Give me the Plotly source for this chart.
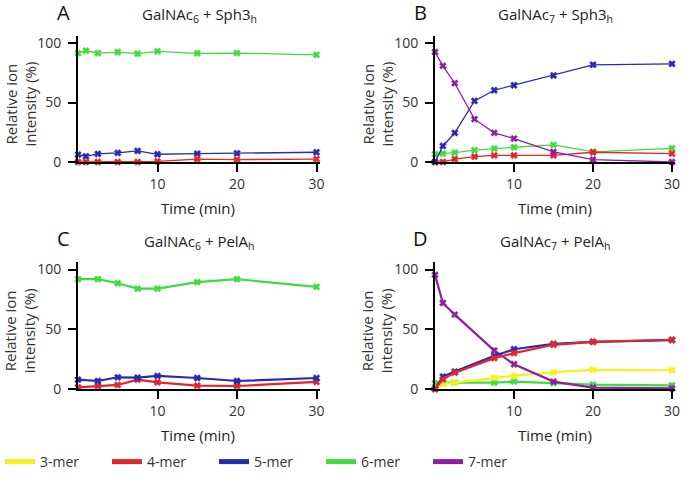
import plotly.graph_objects as go

# ---------------- data ----------------
t_A = [0, 1, 2.5, 5, 7.5, 10, 15, 20, 30]
A_6mer = [91.5, 93.5, 91.5, 92.4, 91.0, 93.0, 91.3, 91.5, 90.1]
A_5mer = [6.2, 4.8, 6.8, 7.6, 9.3, 6.5, 7.0, 7.3, 8.2]
A_4mer = [0, 0, 0, 0, 0, 0.5, 2.5, 2.0, 2.5]

t_B = [0, 1, 2.5, 5, 7.5, 10, 15, 20, 30]
B_7mer = [92.4, 80.8, 66.2, 36.0, 24.5, 19.7, 8.5, 2.0, 0]
B_5mer = [0, 13.5, 24.5, 51.3, 60.3, 64.5, 72.7, 81.7, 82.5]
B_6mer = [6.5, 7.0, 7.9, 9.9, 11.3, 12.4, 14.4, 8.5, 11.5]
B_4mer = [0, 0, 2.5, 4.5, 5.6, 5.6, 5.6, 8.2, 7.0]

t_C = [0, 2.5, 5, 7.5, 10, 15, 20, 30]
C_6mer = [91.9, 91.9, 88.5, 84.0, 84.0, 89.4, 91.9, 85.5]
C_5mer = [7.8, 6.7, 9.8, 9.5, 10.9, 9.2, 6.7, 9.2]
C_4mer = [1.4, 2.5, 3.4, 7.8, 5.6, 2.8, 2.5, 5.9]

t_D = [0, 1, 2.5, 7.5, 10, 15, 20, 30]
D_7mer = [95.5, 72.0, 62.2, 32.2, 20.7, 6.2, 1.1, 0.5]
D_5mer = [0, 10.4, 14.6, 27.7, 33.3, 37.8, 39.5, 40.9]
D_4mer = [0, 8.1, 13.7, 25.8, 30.0, 37.0, 39.5, 41.2]
D_3mer = [0, 4.2, 5.3, 9.5, 11.2, 14.0, 16.0, 15.7]
D_6mer = [4.8, 5.3, 5.3, 5.3, 6.2, 5.0, 3.6, 3.1]

series_names = ["3-mer", "4-mer", "5-mer", "6-mer", "7-mer"]
series_colors = ["#F2F21E", "#E3262B", "#2A2AB0", "#3FDC3F", "#8E1F9E"]
col = dict(zip(series_names, series_colors))

panel_titles = ["GalNAc<sub>6</sub> + Sph3<sub>h</sub>", "GalNAc<sub>7</sub> + Sph3<sub>h</sub>",
                "GalNAc<sub>6</sub> + PelA<sub>h</sub>", "GalNAc<sub>7</sub> + PelA<sub>h</sub>"]
panel_letters = ["A", "B", "C", "D"]
y_ticks = [0, 50, 100]
x_ticks = [10, 20, 30]

W, H = 700, 482
FONT = "Open Sans"


def fx(p):
    return p / W


def fy(p):
    return 1 - p / H


fig = go.Figure()

panels = [
    (1, t_A, [("6-mer", A_6mer), ("5-mer", A_5mer), ("4-mer", A_4mer)], 1.3),
    (2, t_B, [("6-mer", B_6mer), ("4-mer", B_4mer), ("5-mer", B_5mer), ("7-mer", B_7mer)], 1.3),
    (3, t_C, [("6-mer", C_6mer), ("4-mer", C_4mer), ("5-mer", C_5mer)], 2.2),
    (4, t_D, [("6-mer", D_6mer), ("3-mer", D_3mer), ("7-mer", D_7mer), ("5-mer", D_5mer), ("4-mer", D_4mer)], 2.2),
]

for idx, t, ser, lw in panels:
    ax = "" if idx == 1 else str(idx)
    for name, vals in ser:
        fig.add_trace(go.Scatter(
            x=t, y=vals, mode="lines+markers", name=name, showlegend=False,
            line=dict(color=col[name], width=lw),
            marker=dict(symbol="x", size=6, color=col[name],
                        line=dict(width=0.5, color=col[name])),
            xaxis="x" + ax, yaxis="y" + ax, cliponaxis=False))

# legend entries (lines only)
for name in series_names:
    fig.add_trace(go.Scatter(x=[None], y=[None], mode="lines", name=name,
                             line=dict(color=col[name], width=2.5), showlegend=True))

# pixel geometry (page pixels)
cols_px = [(78, 316.5), (435, 672)]   # x=0 , x=30
rows_px = [(162, 43), (389, 269.5)]   # y=0 , y=100
XMAX, YMAX = 30.4, 106

layout = dict(width=W, height=H, margin=dict(l=0, r=0, t=0, b=0, pad=0, autoexpand=False),
              plot_bgcolor="white", paper_bgcolor="white",
              font=dict(family=FONT, color="#333333"))
annotations = []
for i in range(4):
    r, c = divmod(i, 2)
    x0, x30 = cols_px[c]
    y0, y100 = rows_px[r]
    xend = x0 + (x30 - x0) * XMAX / 30
    ytop = y0 - (y0 - y100) * YMAX / 100
    ax = "" if i == 0 else str(i + 1)
    common = dict(ticks="outside", ticklen=8, tickwidth=2, tickcolor="black",
                  showline=True, linecolor="black", linewidth=2, showgrid=False,
                  zeroline=False, automargin=False,
                  tickfont=dict(size=14, color="#333333"))
    layout["xaxis" + ax] = dict(domain=[fx(x0), fx(xend)], range=[0, XMAX],
                                anchor="y" + ax, tickvals=x_ticks, **common)
    layout["yaxis" + ax] = dict(domain=[fy(y0), fy(ytop)], range=[0, YMAX],
                                anchor="x" + ax, tickvals=y_ticks,
                                ticklabelstandoff=4, **common)
    xmid = (x0 + x30) / 2
    # panel title
    annotations.append(dict(text=panel_titles[i], xref="paper", yref="paper",
                            xanchor="center", yanchor="middle",
                            x=fx(xmid + 2), y=fy(y100 - 28), showarrow=False,
                            font=dict(size=15, color="#222222")))
    # panel letter
    annotations.append(dict(text=panel_letters[i], xref="paper", yref="paper",
                            xanchor="center", yanchor="middle",
                            x=fx(x0 - 15), y=fy(y100 - 31), showarrow=False,
                            font=dict(size=20, color="#111111")))
    # y-axis title
    annotations.append(dict(text="Relative ion<br>intensity (%)", xref="paper", yref="paper",
                            xanchor="center", yanchor="middle",
                            x=fx(x0 - 58), y=fy((y0 + y100) / 2 + 2), showarrow=False,
                            textangle=-90, font=dict(size=15, color="#333333")))
    # x-axis title
    annotations.append(dict(text="Time (min)", xref="paper", yref="paper",
                            xanchor="center", yanchor="middle",
                            x=fx(xmid + 1), y=fy(y0 + 46), showarrow=False,
                            font=dict(size=15, color="#222222")))

layout["annotations"] = annotations
layout["showlegend"] = True
layout["legend"] = dict(orientation="h", x=0, xanchor="left", y=fy(462), yanchor="middle",
                        font=dict(size=14, color="#333333"), entrywidth=62,
                        bgcolor="rgba(0,0,0,0)", tracegroupgap=0, itemsizing="constant")
fig.update_layout(**layout)

# remove the browser's default page margin so the figure sits at the window origin
fig.write_html("out.html", config={"displayModeBar": False},
               post_script="document.body.style.margin='0';")
